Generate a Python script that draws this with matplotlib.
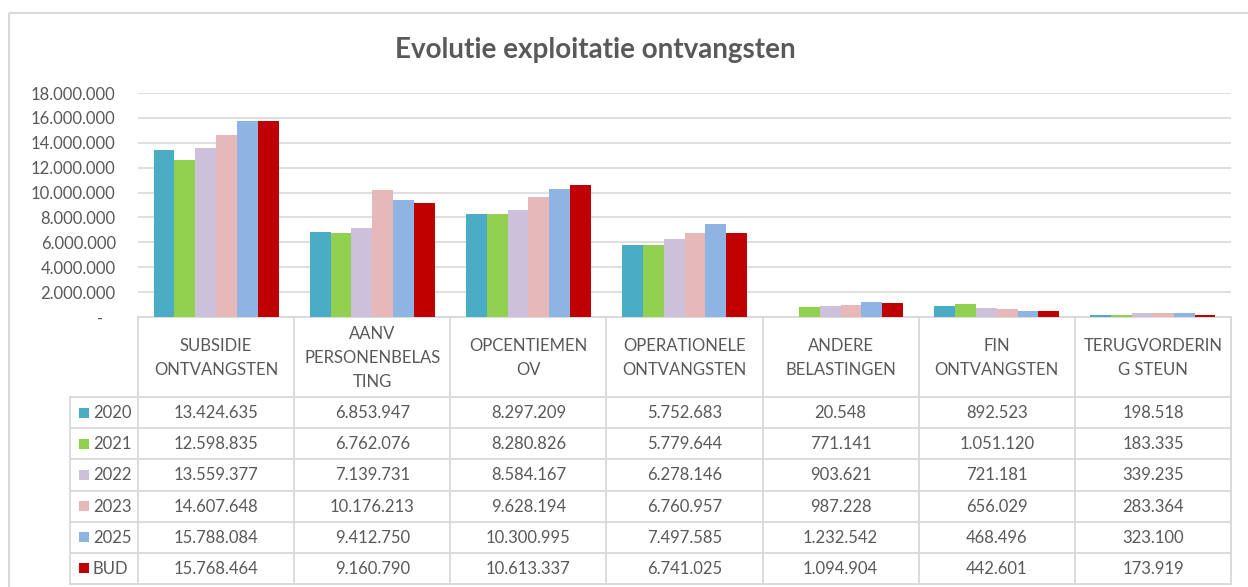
import matplotlib
matplotlib.use("Agg")
import matplotlib.pyplot as plt
from matplotlib.lines import Line2D
from matplotlib.patches import Rectangle
from matplotlib.ticker import FuncFormatter, MultipleLocator

# ---------------- data ----------------
title = "Evolutie exploitatie ontvangsten"
categories = [
    "SUBSIDIE\nONTVANGSTEN",
    "AANV\nPERSONENBELAS\nTING",
    "OPCENTIEMEN\nOV",
    "OPERATIONELE\nONTVANGSTEN",
    "ANDERE\nBELASTINGEN",
    "FIN\nONTVANGSTEN",
    "TERUGVORDERIN\nG STEUN",
]
series_names = ["2020", "2021", "2022", "2023", "2025", "BUD"]
v2020 = [13424635, 6853947, 8297209, 5752683, 20548, 892523, 198518]
v2021 = [12598835, 6762076, 8280826, 5779644, 771141, 1051120, 183335]
v2022 = [13559377, 7139731, 8584167, 6278146, 903621, 721181, 339235]
v2023 = [14607648, 10176213, 9628194, 6760957, 987228, 656029, 283364]
v2025 = [15788084, 9412750, 10300995, 7497585, 1232542, 468496, 323100]
vBUD = [15768464, 9160790, 10613337, 6741025, 1094904, 442601, 173919]
series_values = [v2020, v2021, v2022, v2023, v2025, vBUD]
colors = ["#4BACC6", "#92D050", "#CCC0DA", "#E6B9B8", "#8DB4E2", "#C00000"]
y_max = 18000000
y_step = 2000000

# ---------------- layout ----------------
W, H = 1248, 587
FONT = "Lato"
TXT = "#595959"
GRID = "#D9D9D9"

fig = plt.figure(figsize=(W / 100, H / 100), dpi=100)

# overlay axes in pixel coords
ov = fig.add_axes([0, 0, 1, 1])
ov.set_xlim(0, W)
ov.set_ylim(H, 0)
ov.axis("off")

PL, PR, PT, PB = 138, 1231, 93, 317
ax = fig.add_axes([PL / W, (H - PB) / H, (PR - PL) / W, (PB - PT) / H])

n = len(categories)
ns = len(series_names)
bw = 1.0 / 7.5
for k, (name, vals, col) in enumerate(zip(series_names, series_values, colors)):
    xs = [i - 3 * bw + (k + 0.5) * bw for i in range(n)]
    ax.bar(xs, vals, width=bw, color=col, label=name, zorder=3, linewidth=0)

ax.set_xlim(-0.5, n - 0.5)
ax.set_ylim(0, y_max)
ax.yaxis.set_major_locator(MultipleLocator(y_step))


def fmt(v, pos=None):
    if v == 0:
        return "-   "
    return f"{int(round(v)):,}".replace(",", ".")


ax.yaxis.set_major_formatter(FuncFormatter(fmt))
ax.tick_params(axis="y", length=0, pad=16, labelsize=12, labelcolor=TXT)
for lab in ax.get_yticklabels():
    lab.set_fontfamily(FONT)
ax.set_xticks([])
ax.grid(axis="y", color=GRID, linewidth=1.2, zorder=0)
for s in ax.spines.values():
    s.set_visible(False)
ax.patch.set_alpha(0)

# title
ov.text(595, 50, title, ha="center", va="center", fontsize=20, fontweight="bold",
        color=TXT, family=FONT)

# chart border
ov.add_patch(Rectangle((9, 13), 1300, 700, fill=False, edgecolor=GRID, linewidth=1.5))

# table
colw = (PR - PL) / n
TL = 70
HB = 397
TB = 584
rh = (TB - HB) / ns


def xcat(i):
    return PL + (i + 0.5) * colw


def hline(y, x0, x1):
    ov.add_line(Line2D([x0, x1], [y, y], color=GRID, linewidth=1.3))


def vline(x, y0, y1):
    ov.add_line(Line2D([x, x], [y0, y1], color=GRID, linewidth=1.3))


hline(PB, PL, PR)
for r in range(ns + 1):
    hline(HB + r * rh, TL, PR)
vline(TL, HB, TB)
for i in range(n + 1):
    vline(PL + i * colw, PB, TB)

for i, cat in enumerate(categories):
    ov.text(xcat(i), (PB + HB) / 2 + 1, cat, ha="center", va="center", fontsize=12,
            color=TXT, family=FONT, linespacing=1.65)

for r, (name, vals, col) in enumerate(zip(series_names, series_values, colors)):
    yc = HB + (r + 0.5) * rh
    ov.add_patch(Rectangle((79, yc - 5), 10, 10, color=col, linewidth=0))
    ov.text(93, yc + 0.5, name, ha="left", va="center", fontsize=12, color=TXT, family=FONT)
    for i, v in enumerate(vals):
        ov.text(xcat(i), yc + 0.5, fmt(v), ha="center", va="center", fontsize=12,
                color=TXT, family=FONT)

fig.savefig("out.png", dpi=100)
